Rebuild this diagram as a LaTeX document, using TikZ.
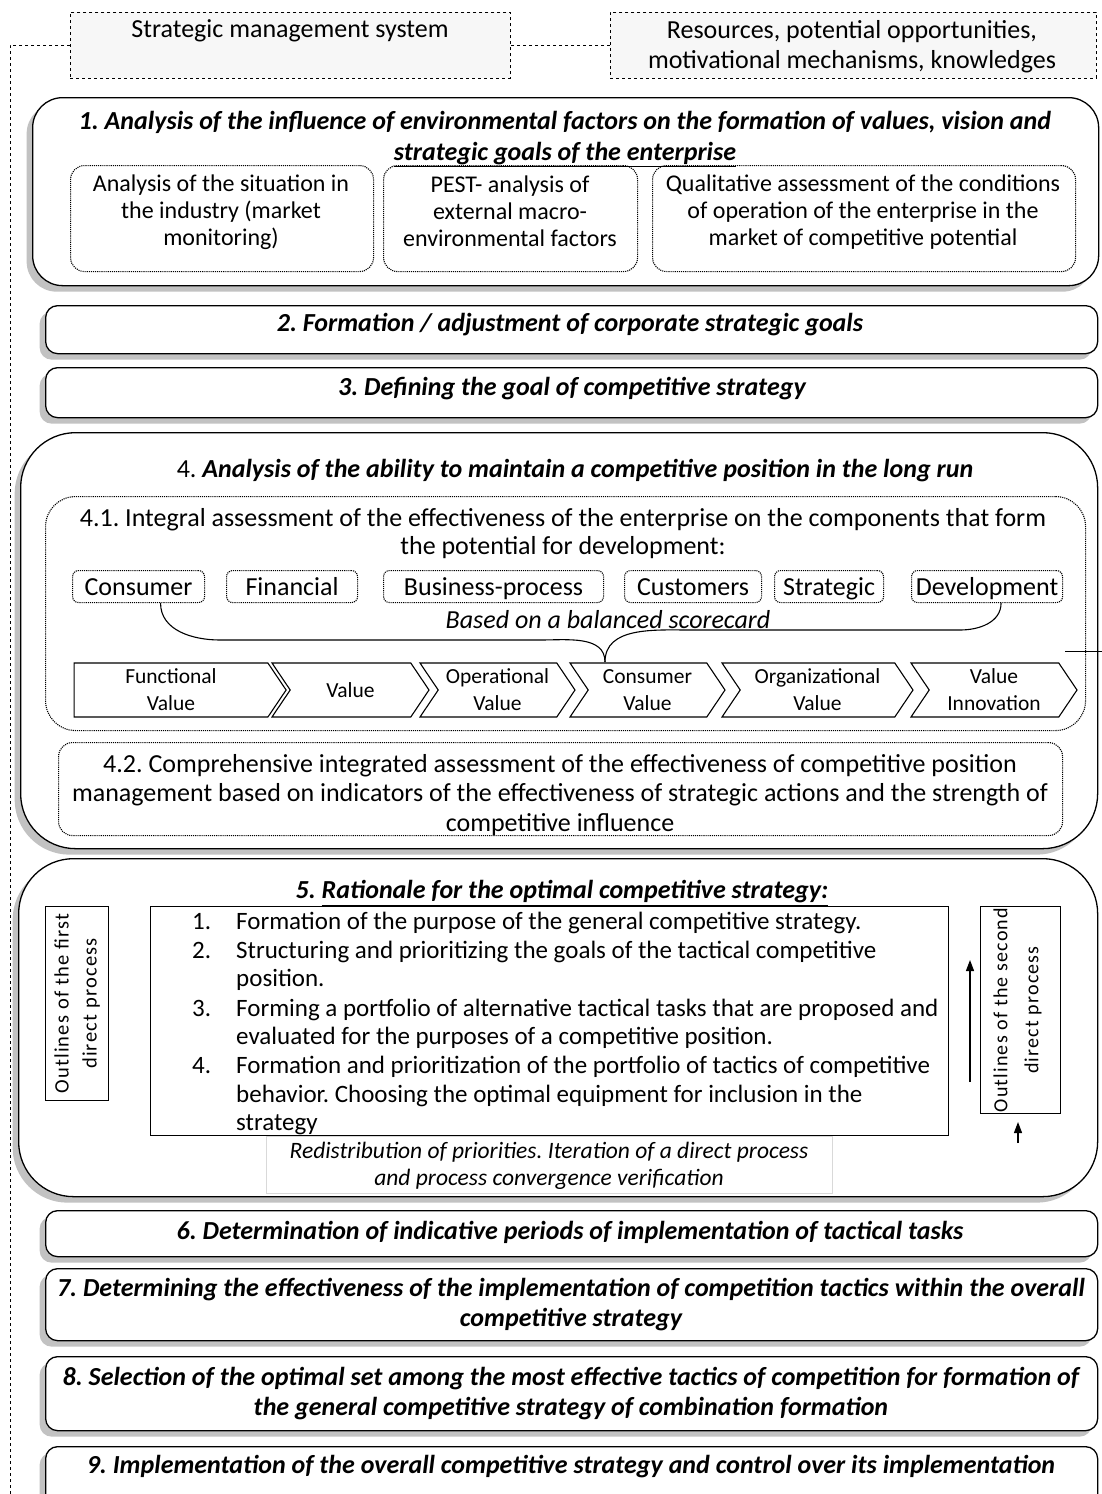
\documentclass[tikz,border=0pt]{standalone}
\usepackage{fontspec}
\setmainfont{Carlito}
\newfontfamily\spacedfont[LetterSpace=6]{Carlito}
\usetikzlibrary{positioning,shadows,shapes.symbols,arrows.meta}
\frenchspacing

\tikzset{
  outer/.style={draw,line width=1.3pt,fill=white,rounded corners=#1,anchor=north west,
    drop shadow={shadow xshift=-6pt,shadow yshift=-6pt,fill=gray!80,opacity=.6}},
  inner/.style={draw,densely dotted,line width=1.1pt,rounded corners=#1,anchor=north west},
  plain/.style={draw,line width=1.1pt,anchor=north west,fill=white},
  sysbox/.style={draw,dashed,line width=0.9pt,fill=gray!6,anchor=north west},
  ttl/.style={font=\fontsize{26}{31}\selectfont\bfseries\itshape,align=center},
  txt/.style={font=\fontsize{24}{27}\selectfont,align=center},
  big/.style={font=\fontsize{26}{28}\selectfont,align=center},
  chev/.style={signal,draw,line width=1.1pt,signal to=east,signal pointer angle=112,
    minimum height=54pt,inner sep=0pt,font=\fontsize{21.5}{27}\selectfont,align=center}
}

\begin{document}
\begin{tikzpicture}[x=1pt,y=-1pt]
  \useasboundingbox (0,0) rectangle (1102,1494);

  % top boxes
  \node[sysbox,minimum width=440pt,minimum height=66pt] (sys) at (70,12) {};
  \node[txt,font=\fontsize{26}{30}\selectfont] (syst) at (290,31) {Strategic management system};
  \node[sysbox,minimum width=486pt,minimum height=66pt] (res) at (610,12) {};
  \node[txt,font=\fontsize{26}{30}\selectfont] (rest) at (852,47) {Resources, potential opportunities,\\motivational mechanisms, knowledges};
  \draw[dashed,line width=0.9pt] (res.west) -- (sys.east);
  \coordinate (fbend) at (10,1520);
  \draw[dashed,line width=0.9pt] (sys.west) -| (fbend);

  % 1
  \node[outer=30pt,minimum width=1066pt,minimum height=188pt] (s1) at (32,97) {};
  \node[ttl] (s1t) at (565,139) {1. Analysis of the influence of environmental factors on the formation of values, vision and\\\underline{strategic goals of the enterprise}};
  \node[inner=14pt,minimum width=303pt,minimum height=106pt] (s1a) at (70,165) {};
  \node[inner=14pt,minimum width=254pt,minimum height=106pt] (s1b) at (383,165) {};
  \node[inner=14pt,minimum width=423pt,minimum height=106pt] (s1c) at (652,165) {};
  \node[txt] (s1at) at (221,212) {Analysis of the situation in\\the industry (market\\monitoring)};
  \node[txt] (s1bt) at (510,211) {PEST- analysis of\\external macro-\\environmental factors};
  \node[txt] (s1ct) at (863,212) {Qualitative assessment of the conditions\\of operation of the enterprise in the\\market of competitive potential};

  % 2, 3
  \node[outer=12pt,minimum width=1052pt,minimum height=48pt] (s2) at (45,305) {};
  \node[ttl] (s2t) at (570,325) {2. Formation / adjustment of corporate strategic goals};
  \node[outer=12pt,minimum width=1052pt,minimum height=50pt] (s3) at (45,367) {};
  \node[ttl] (s3t) at (572,389) {3. Defining the goal of competitive strategy};

  % 4
  \node[outer=55pt,minimum width=1077pt,minimum height=416pt] (s4) at (20,432) {};
  \node[ttl] (s4t) at (575,471) {\normalfont 4. \bfseries\itshape Analysis of the ability to maintain a competitive position in the long run};
  \node[inner=30pt,minimum width=1040pt,minimum height=234pt] (s41) at (45,496) {};
  \node[big] (s41t) at (563,534) {4.1. Integral assessment of the effectiveness of the enterprise on the components that form\\the potential for development:};
  \foreach \n/\l/\r in {1/72/204,2/226/357,3/383/603,4/624/761,5/774/883,6/911/1062}
    \node[inner=6pt,minimum width=\r pt-\l pt,minimum height=32pt] (c\n) at (\l,570) {};
  \foreach \n/\lab in {1/Consumer,2/Financial,3/Business-process,4/Customers,5/Strategic,6/Development}
    \node[big,text height=17pt,text depth=6pt] (c\n t) at ([yshift=-3pt]c\n) {\lab};
  \node[txt,font=\fontsize{26}{27}\selectfont\itshape] (bsc) at (608,620) {Based on a balanced scorecard};
  \coordinate (meet) at (605,662);
  \draw[line width=1.1pt] ([xshift=22pt]c1.south) to[out=-90,in=180] (220,640) -- (540,640) to[out=0,in=90] (meet);
  \draw[line width=1.1pt] ([xshift=14pt]c6.south) to[out=-90,in=0] (960,630) -- (690,630) to[out=180,in=90] (meet);
  \node[chev,minimum width=212pt] (v1) at (171,690) {Functional\\Value};
  \foreach \n/\l/\r/\lab in {2/272/429/Value,3/420/575/Operational\\Value,4/570/725/Consumer\\Value,
      5/722/913/Organizational\\Value,6/911/1077/Value\\Innovation}
    \node[chev,signal from=west,minimum width=\r pt-\l pt] (v\n) at ({(\l+\r)/2},690) {\lab};
  \coordinate (tka) at (1065,651);
  \coordinate (tkb) at (1102,651);
  \draw[line width=1pt] (tka) -- (tkb);
  \node[inner=14pt,minimum width=1004pt,minimum height=93pt] (s42) at (58,742) {};
  \node[big,font=\fontsize{26}{29.5}\selectfont] (s42t) at (560,795) {4.2. Comprehensive integrated assessment of the effectiveness of competitive position\\management based on indicators of the effectiveness of strategic actions and the strength of\\competitive influence};

  % 5
  \node[outer=55pt,minimum width=1079pt,minimum height=338pt] (s5) at (18,858) {};
  \node[ttl] (s5t) at (562,893) {5. \underline{Rationale for the optimal competitive strategy:}};
  \node[plain,minimum width=63pt,minimum height=194pt] (o1) at (45,906) {};
  \node[txt,rotate=90,font=\spacedfont\fontsize{20.5}{28}\selectfont] (o1t) at (o1) {Outlines of the first\\direct process};
  \node[plain,minimum width=798pt,minimum height=229pt] (lst) at (150,906) {};
  \foreach \yy/\num/\ln in {921/1./Formation of the purpose of the general competitive strategy.,
      950/2./Structuring and prioritizing the goals of the tactical competitive,
      978//position.,
      1008/3./Forming a portfolio of alternative tactical tasks that are proposed and,
      1036//evaluated for the purposes of a competitive position.,
      1065/4./Formation and prioritization of the portfolio of tactics of competitive,
      1094//behavior. Choosing the optimal equipment for inclusion in the,
      1122//strategy}
  {
    \node[txt,font=\fontsize{25}{27}\selectfont,anchor=base west,inner sep=0pt] (n\yy) at (192,\yy+8) {\num};
    \node[txt,font=\fontsize{25}{27}\selectfont,anchor=base west,inner sep=0pt] (l\yy) at (236,\yy+8) {\ln};
  }
  \node[plain,draw=gray!30,minimum width=566pt,minimum height=57pt] (redis) at (266,1136) {};
  \node[txt,font=\fontsize{23.5}{27}\selectfont\itshape] (redist) at (549,1166) {Redistribution of priorities. Iteration of a direct process\\and process convergence verification};
  \node[plain,minimum width=80pt,minimum height=207pt] (o2) at (980,906) {};
  \node[txt,rotate=90,font=\spacedfont\fontsize{20}{31}\selectfont] (o2t) at ([xshift=-3pt]o2.center) {Outlines of the second\\direct process};
  \coordinate (a1s) at (970,1082);
  \coordinate (a1e) at (970,960);
  \coordinate (a2s) at (1018,1143);
  \coordinate (a2e) at (1018,1122);
  \draw[line width=1.2pt,-{Triangle[width=8pt,length=11pt]}] (a1s) -- (a1e);
  \draw[line width=1.2pt,-{Triangle[width=8pt,length=11pt]}] (a2s) -- (a2e);

  % 6 - 9
  \node[outer=12pt,minimum width=1052pt,minimum height=46pt] (s6) at (45,1210) {};
  \node[ttl] (s6t) at (570,1232) {6. Determination of indicative periods of implementation of tactical tasks};
  \node[outer=12pt,minimum width=1052pt,minimum height=72pt] (s7) at (45,1268) {};
  \node[ttl,font=\fontsize{26}{30}\selectfont\bfseries\itshape] (s7t) at (571,1305) {7. Determining the effectiveness of the implementation of competition tactics within the overall\\competitive strategy};
  \node[outer=12pt,minimum width=1052pt,minimum height=74pt] (s8) at (45,1356) {};
  \node[ttl,font=\fontsize{26}{30}\selectfont\bfseries\itshape] (s8t) at (571,1394) {8. Selection of the optimal set among the most effective tactics of competition for formation of\\the general competitive strategy of combination formation};
  \node[outer=12pt,minimum width=1052pt,minimum height=74pt] (s9) at (45,1446) {};
  \node[ttl] (s9t) at (571,1467) {9. Implementation of the overall competitive strategy and control over its implementation};
\end{tikzpicture}
\end{document}
